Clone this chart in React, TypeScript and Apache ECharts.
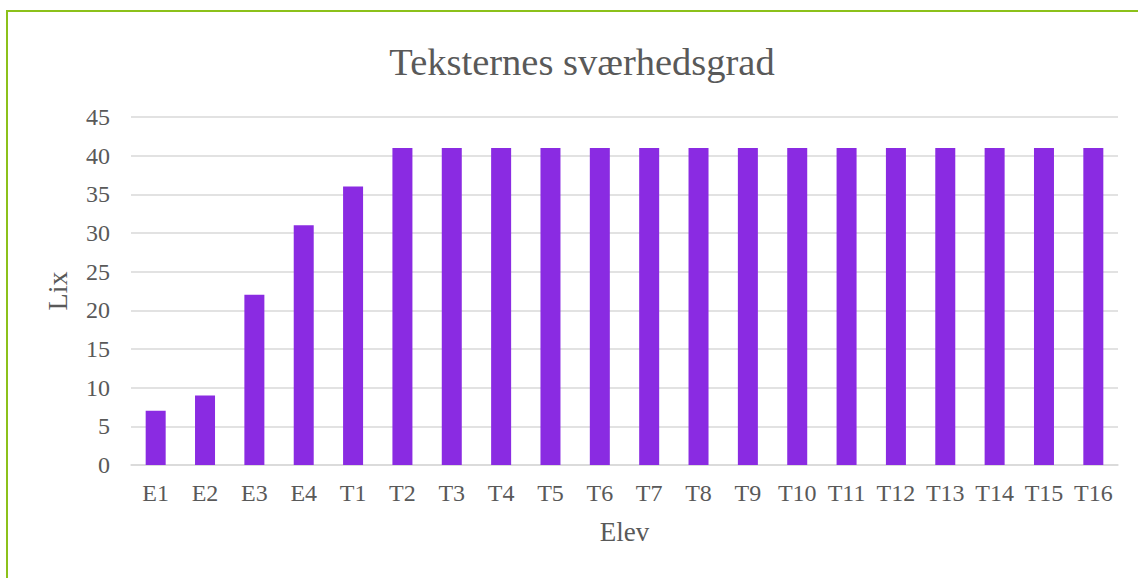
import React, { useEffect, useRef } from "react";
import * as echarts from "echarts";

const categories = ["E1", "E2", "E3", "E4", "T1", "T2", "T3", "T4", "T5", "T6", "T7", "T8", "T9", "T10", "T11", "T12", "T13", "T14", "T15", "T16"];
const lixValues = [7, 9, 22, 31, 36, 41, 41, 41, 41, 41, 41, 41, 41, 41, 41, 41, 41, 41, 41, 41];
const yTicks = { min: 0, max: 45, interval: 5 };

const FONT = "'Liberation Serif', 'DejaVu Serif', serif";
const TXT = "#595959";

export default function App() {
  const ref = useRef<HTMLDivElement>(null);
  useEffect(() => {
    if (!ref.current) return;
    const chart = echarts.init(ref.current, null, { renderer: "svg" });
    chart.setOption({
      animation: false,
      backgroundColor: "#ffffff",
      title: {
        text: "Teksternes sværhedsgrad",
        left: 577,
        textAlign: "center",
        top: 37,
        textStyle: { fontFamily: FONT, fontSize: 38.5, fontWeight: "normal", color: TXT },
      },
      graphic: [
        {
          type: "rect",
          shape: { x: 7, y: 11, width: 1200, height: 700 },
          style: { fill: "none", stroke: "#8CC11A", lineWidth: 2 },
          silent: true,
        },
      ],
      grid: { left: 131, right: 20, top: 117, bottom: 113 },
      xAxis: {
        type: "category",
        data: categories,
        name: "Elev",
        nameLocation: "middle",
        nameGap: 53,
        nameTextStyle: { fontFamily: FONT, fontSize: 27, color: TXT },
        axisLine: { show: true, lineStyle: { color: "#d9d9d9", width: 1.5 } },
        axisTick: { show: false },
        axisLabel: { fontFamily: FONT, fontSize: 24, color: TXT, margin: 16, interval: 0 },
      },
      yAxis: {
        type: "value",
        min: yTicks.min,
        max: yTicks.max,
        interval: yTicks.interval,
        name: "Lix",
        nameLocation: "middle",
        nameGap: 60,
        nameRotate: 90,
        nameTextStyle: { fontFamily: FONT, fontSize: 28, color: TXT },
        axisLine: { show: false },
        axisTick: { show: false },
        axisLabel: { fontFamily: FONT, fontSize: 24, color: TXT, margin: 21 },
        splitLine: { lineStyle: { color: "#d9d9d9", width: 1.5 } },
      },
      series: [
        {
          type: "bar",
          data: lixValues,
          barWidth: 20,
          itemStyle: { color: "#8A2BE2" },
        },
      ],
    });
    return () => chart.dispose();
  }, []);
  return (
    <div
      ref={ref}
      style={{ position: "fixed", left: 0, top: 0, width: 1138, height: 578 }}
    />
  );
}
